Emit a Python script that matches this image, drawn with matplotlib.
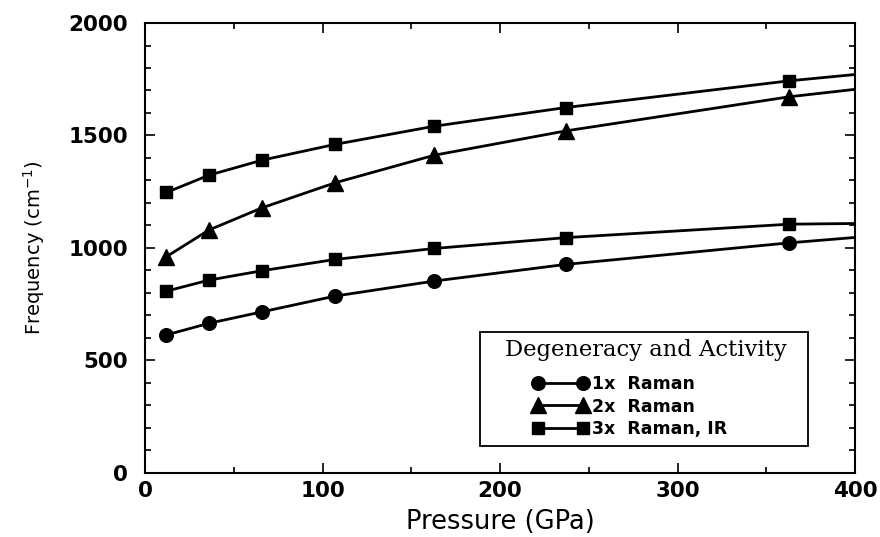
import matplotlib
matplotlib.use("Agg")
import matplotlib.pyplot as plt
from matplotlib.patches import Rectangle
from matplotlib.ticker import MultipleLocator

pressure = [12, 36, 66, 107, 163, 237, 363, 400]
freq_1x = [612, 664, 715, 785, 852, 926, 1022, 1046]
freq_2x = [960, 1079, 1178, 1289, 1412, 1520, 1672, 1705]
freq_3x_low = [807, 856, 898, 948, 997, 1045, 1105, 1108]
freq_3x_high = [1246, 1323, 1390, 1460, 1541, 1624, 1743, 1771]
labels = ["1x  Raman", "2x  Raman", "3x  Raman, IR"]
legend_title = "Degeneracy and Activity"

fig = plt.figure(figsize=(8.8, 5.37), dpi=100)
ax = fig.add_axes([0.1648, 0.1201, 0.807, 0.837])

mk = list(range(7))
base = dict(color="black", lw=2.0, markevery=mk)
ax.plot(pressure, freq_1x, marker="o", markersize=9.8, label=labels[0], **base)
ax.plot(pressure, freq_2x, marker="^", markersize=11, label=labels[1], **base)
ax.plot(pressure, freq_3x_low, marker="s", markersize=9.2, label=labels[2], **base)
ax.plot(pressure, freq_3x_high, marker="s", markersize=9.2, **base)

ax.set_xlim(0, 400)
ax.set_ylim(0, 2000)
ax.xaxis.set_major_locator(MultipleLocator(100))
ax.xaxis.set_minor_locator(MultipleLocator(50))
ax.yaxis.set_major_locator(MultipleLocator(500))
ax.yaxis.set_minor_locator(MultipleLocator(100))
ax.tick_params(which="both", direction="in", top=True, right=True, width=1.2)
ax.tick_params(which="major", length=7, labelsize=15.5)
ax.tick_params(which="minor", length=4)
ax.tick_params(axis="x", which="major", pad=6)
ax.tick_params(axis="y", which="major", pad=12)
for lab in ax.get_xticklabels() + ax.get_yticklabels():
    lab.set_fontweight("bold")
    lab.set_family("DejaVu Sans")
for s in ax.spines.values():
    s.set_linewidth(1.5)

ax.set_xlabel("Pressure (GPa)", fontsize=18.5, family="DejaVu Sans", labelpad=6)
ax.set_ylabel("Frequency (cm$^{-1}$)", fontsize=14, family="DejaVu Sans", labelpad=16)

# legend frame and title
frame = Rectangle((0.4718, 0.059), 0.462, 0.2536, transform=ax.transAxes,
                  facecolor="white", edgecolor="black", lw=1.3, zorder=5)
ax.add_patch(frame)
ax.text(0.7056, 0.2725, legend_title, transform=ax.transAxes, ha="center", va="center",
        family="DejaVu Serif", fontsize=16.3, zorder=6)

leg = ax.legend(loc="upper left", bbox_to_anchor=(0.5465, 0.2169), borderaxespad=0,
                numpoints=2, frameon=False, handlelength=3.2, handletextpad=0.2,
                labelspacing=0.26, borderpad=0,
                prop={"family": "DejaVu Sans", "weight": "bold", "size": 12.5})
leg.set_zorder(7)

fig.savefig("out.png", dpi=100)
